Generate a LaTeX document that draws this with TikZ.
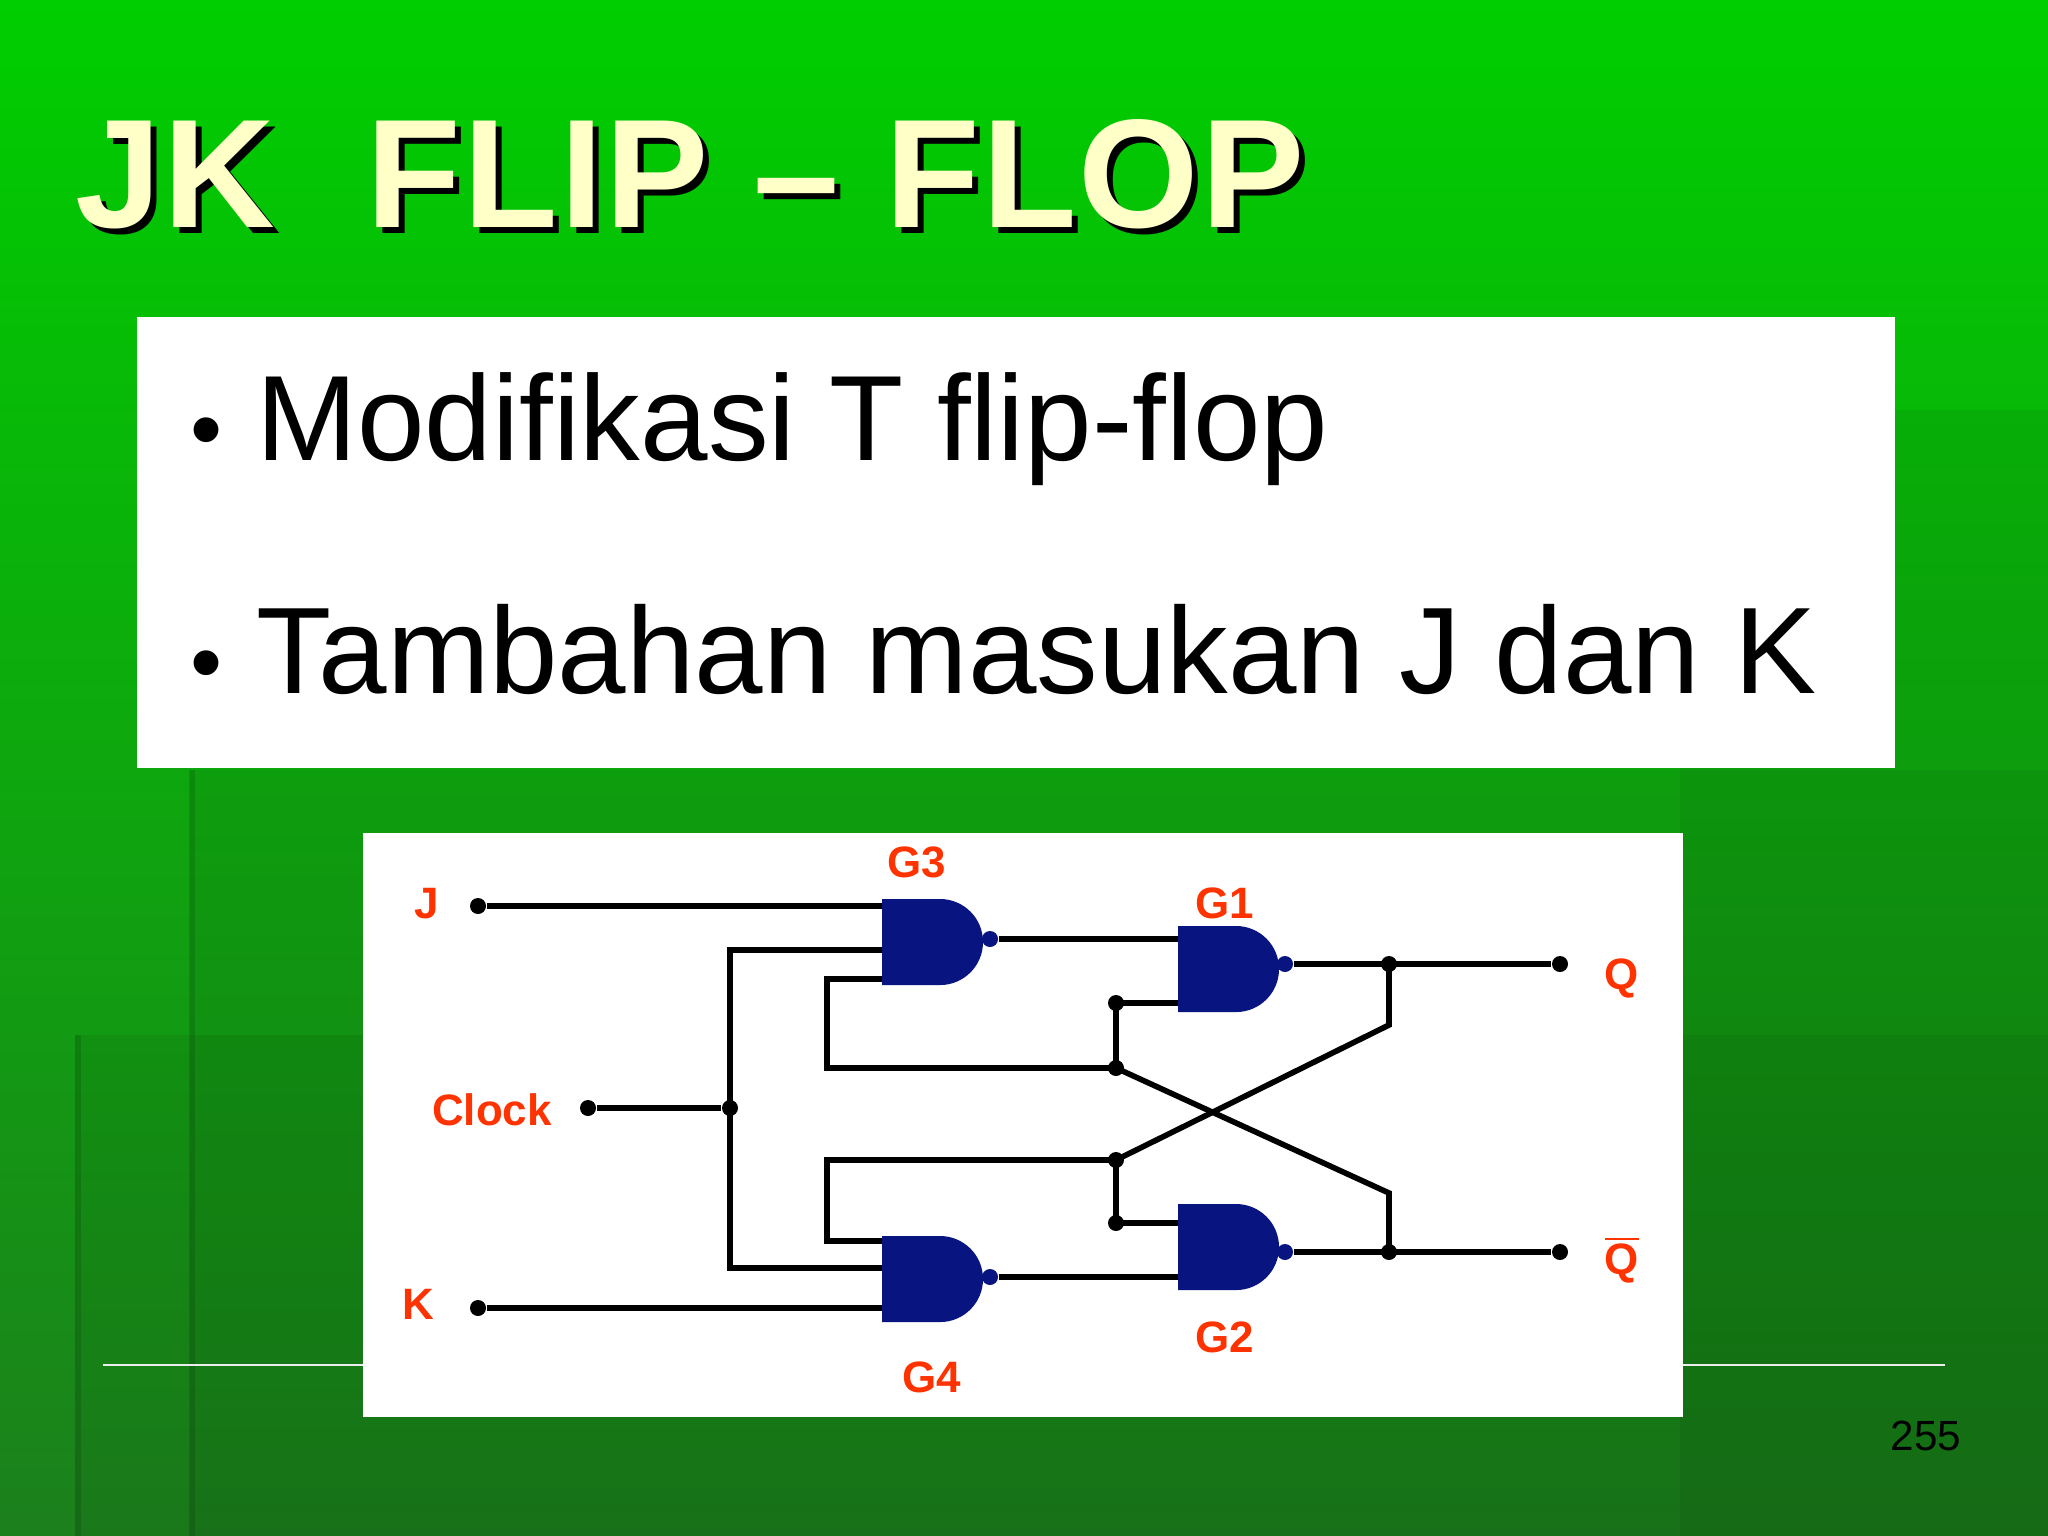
\documentclass[tikz,border=0pt]{standalone}
\usepackage{fontspec}
\setmainfont{Liberation Sans}
\newfontfamily\titlefont[LetterSpace=1.5]{Liberation Sans}
\begin{document}
\begin{tikzpicture}[x=0.01cm,y=-0.01cm,
  wire/.style={line width=1.6pt,line join=miter},
  jdot/.style={circle,fill=black,inner sep=0pt,minimum size=0.16cm},
  lab/.style={text=labred,font=\bfseries\fontsize{12.5pt}{14pt}\selectfont,inner sep=0pt},
  gatefill/.style={fill=gateblue},
  bub/.style={circle,fill=gateblue,inner sep=0pt,minimum size=0.16cm}]
\definecolor{labred}{RGB}{255,51,0}
\definecolor{gateblue}{RGB}{8,20,128}
\definecolor{titley}{RGB}{255,255,200}
\useasboundingbox (0,0) rectangle (2048,1536);
\shade[top color={rgb,255:red,0;green,206;blue,0},bottom color={rgb,255:red,28;green,128;blue,28}] (0,0) rectangle (2048,1536);
\fill[black,opacity=0.06] (1680,410) rectangle (2048,1536);
\fill[black,opacity=0.06] (75,1035) rectangle (2048,1536);
\fill[black,opacity=0.05] (190,770) rectangle (2048,1536);
\draw[black,opacity=0.12,line width=1.5pt] (192,770) -- (192,1536);
\draw[black,opacity=0.12,line width=1.5pt] (78,1035) -- (78,1536);
% title with shadow
\node[anchor=base west,inner sep=0pt,text=titley,font=\titlefont\bfseries\fontsize{44pt}{48pt}\selectfont] (title) at (75,227)
  {\makebox[0pt][l]{\hspace{0.06cm}\raisebox{-0.06cm}{\color{black}JK\ \ FLIP \textendash{} FLOP}}JK\ \ FLIP \textendash{} FLOP};
% text box
\fill[white] (137,317) rectangle (1895,768);
\node[anchor=base west,inner sep=0pt,font=\fontsize{34.5pt}{40pt}\selectfont] (b1) at (190,460) {{\fontsize{26pt}{30pt}\selectfont\textbullet}\ Modifikasi T flip-flop};
\node[anchor=base west,inner sep=0pt,font=\fontsize{35pt}{40pt}\selectfont] (b2) at (190,693) {{\fontsize{26pt}{30pt}\selectfont\textbullet}\ Tambahan masukan J dan K};
% footer line and number
\draw[white!85!gray,line width=0.8pt] (103,1365) -- (1945,1365);
\node[inner sep=0pt,font=\fontsize{12pt}{14pt}\selectfont,text=black] (pg) at (1926,1436) {255};
% circuit box
\fill[white] (363,833) rectangle (1683,1417);
% gates
\foreach \gx/\gy/\gn in {882/899/G3, 1178/926/G1, 882/1236/G4, 1178/1204/G2}{
  \fill[gatefill] (\gx,\gy+86) -- (\gx,\gy) -- (\gx+58,\gy) arc[start angle=90,end angle=-90,x radius=0.43cm,y radius=0.43cm] -- cycle;
}
\node[bub] (b3) at (990,939) {};
\node[bub] (bb1) at (1285,964) {};
\node[bub] (b4) at (990,1277) {};
\node[bub] (bb2) at (1285,1252) {};
% dots
\node[jdot] (J) at (478,906) {};
\node[jdot] (K) at (478,1308) {};
\node[jdot] (CLK) at (588,1108) {};
\node[jdot] (cj) at (730,1108) {};
\node[jdot] (Qd) at (1560,964) {};
\node[jdot] (Qbd) at (1560,1252) {};
\node[jdot] (qj) at (1389,964) {};
\node[jdot] (qbj) at (1389,1252) {};
\node[jdot] (a1) at (1116,1003) {};
\node[jdot] (a2) at (1116,1068) {};
\node[jdot] (a3) at (1116,1160) {};
\node[jdot] (a4) at (1116,1223) {};
\coordinate (g3a) at (882,906);
\coordinate (g3b) at (882,950);
\coordinate (g3c) at (882,979);
\coordinate (g4a) at (882,1241);
\coordinate (g4b) at (882,1268);
\coordinate (g4c) at (882,1308);
\coordinate (g1a) at (1178,939);
\coordinate (g1b) at (1178,1003);
\coordinate (g2a) at (1178,1223);
\coordinate (g2b) at (1178,1277);
% wires
\draw[wire] (J) -- (g3a);
\draw[wire] (K) -- (g4c);
\draw[wire] (CLK) -- (cj);
\draw[wire] (g3b) -| (cj.center) |- (g4b);
\draw[wire] (g3c) -| (827,1068) -- (a2.center);
\draw[wire] (g4a) -| (827,1160) -- (a3.center);
\draw[wire] (b3) -- (g1a);
\draw[wire] (b4) -- (g2b);
\draw[wire] (a1.center) -- (g1b);
\draw[wire] (a4.center) -- (g2a);
\draw[wire] (a1.center) -- (a2.center);
\draw[wire] (a3.center) -- (a4.center);
\draw[wire] (bb1) -- (Qd);
\draw[wire] (bb2) -- (Qbd);
\draw[wire] (qj.center) -- (1389,1025) -- (a3.center);
\draw[wire] (qbj.center) -- (1389,1193) -- (a2.center);
% labels
\node[lab] (lJ) at (427,904) {J};
\node[lab] (lK) at (418,1304) {K};
\node[lab] (lC) at (492,1110) {Clock};
\node[lab] (lQ) at (1622,978) {Q};
\node[lab] (lQb) at (1622,1260) {$\overline{\mbox{Q}}$};
\node[lab] (lG3) at (917,862) {G3};
\node[lab] (lG1) at (1225,903) {G1};
\node[lab] (lG2) at (1225,1337) {G2};
\node[lab] (lG4) at (932,1377) {G4};
\end{tikzpicture}
\end{document}
